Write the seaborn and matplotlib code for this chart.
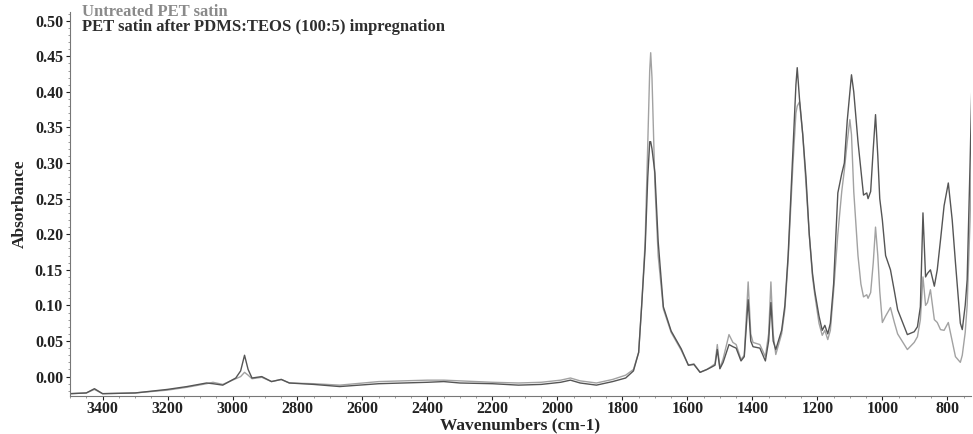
import numpy as np
import pandas as pd
import matplotlib
matplotlib.use('Agg')
import matplotlib.pyplot as plt
import seaborn as sns
from matplotlib.ticker import MultipleLocator

# wavenumber grid (cm-1)
wavenumbers = [
    3500, 3450, 3425, 3400, 3300, 3200, 3140, 3080, 3060, 3030,
    2990, 2975, 2963, 2952, 2940, 2910, 2880, 2850, 2825, 2750,
    2670, 2550, 2400, 2350, 2300, 2200, 2120, 2050, 1990, 1960,
    1930, 1880, 1830, 1790, 1766, 1750, 1741, 1730, 1722, 1716,
    1713, 1709, 1700, 1690, 1674, 1650, 1619, 1597, 1580, 1561,
    1540, 1527, 1515, 1508, 1500, 1490, 1472, 1460, 1450, 1435,
    1425, 1413, 1405, 1398, 1377, 1360, 1350, 1343, 1336, 1328,
    1310, 1300, 1290, 1275, 1266, 1262, 1255, 1245, 1235, 1225,
    1215, 1208, 1195, 1185, 1177, 1168, 1160, 1150, 1137, 1125,
    1117, 1108, 1100, 1095, 1088, 1075, 1066, 1058, 1048, 1044,
    1036, 1028, 1021, 1014, 1008, 1000, 990, 975, 963, 953,
    923, 902, 892, 883, 875, 867, 861, 852, 840, 831,
    821, 810, 797, 785, 775, 760, 754, 745, 739, 730,
    725,
]

untreated = [
    -0.024, -0.023, -0.018, -0.024, -0.023, -0.019, -0.015, -0.010, -0.008, -0.011,
    -0.003, 0.000, 0.006, 0.002, -0.003, -0.001, -0.007, -0.004, -0.009, -0.010,
    -0.012, -0.007, -0.005, -0.005, -0.006, -0.008, -0.009, -0.008, -0.005, -0.002,
    -0.006, -0.009, -0.004, 0.002, 0.010, 0.034, 0.098, 0.190, 0.330, 0.430,
    0.455, 0.420, 0.270, 0.170, 0.095, 0.062, 0.037, 0.016, 0.018, 0.006,
    0.010, 0.014, 0.018, 0.045, 0.012, 0.025, 0.059, 0.048, 0.045, 0.024,
    0.030, 0.133, 0.060, 0.048, 0.045, 0.028, 0.060, 0.133, 0.060, 0.031,
    0.060, 0.094, 0.164, 0.300, 0.370, 0.380, 0.386, 0.340, 0.270, 0.200,
    0.140, 0.115, 0.075, 0.058, 0.065, 0.052, 0.065, 0.120, 0.200, 0.260,
    0.290, 0.330, 0.361, 0.340, 0.260, 0.170, 0.130, 0.112, 0.115, 0.110,
    0.118, 0.160, 0.210, 0.170, 0.120, 0.076, 0.085, 0.097, 0.076, 0.060,
    0.038, 0.048, 0.056, 0.080, 0.140, 0.100, 0.104, 0.122, 0.080, 0.076,
    0.066, 0.065, 0.076, 0.050, 0.028, 0.020, 0.030, 0.062, 0.100, 0.220,
    0.320,
]

treated = [
    -0.024, -0.023, -0.017, -0.024, -0.023, -0.018, -0.014, -0.009, -0.010, -0.012,
    -0.002, 0.008, 0.030, 0.010, -0.002, 0.000, -0.007, -0.004, -0.009, -0.011,
    -0.014, -0.010, -0.008, -0.007, -0.009, -0.010, -0.012, -0.011, -0.008, -0.005,
    -0.009, -0.012, -0.007, -0.002, 0.008, 0.034, 0.098, 0.180, 0.280, 0.330,
    0.330, 0.320, 0.286, 0.190, 0.098, 0.064, 0.039, 0.016, 0.017, 0.006,
    0.010, 0.013, 0.016, 0.038, 0.011, 0.020, 0.045, 0.042, 0.040, 0.022,
    0.028, 0.108, 0.050, 0.042, 0.040, 0.022, 0.050, 0.104, 0.050, 0.038,
    0.065, 0.100, 0.170, 0.320, 0.410, 0.434, 0.390, 0.340, 0.280, 0.200,
    0.145, 0.120, 0.085, 0.065, 0.072, 0.060, 0.075, 0.130, 0.258, 0.285,
    0.300, 0.360, 0.400, 0.424, 0.400, 0.330, 0.290, 0.255, 0.258, 0.250,
    0.260, 0.320, 0.368, 0.310, 0.250, 0.220, 0.170, 0.150, 0.120, 0.094,
    0.059, 0.063, 0.070, 0.098, 0.230, 0.140, 0.145, 0.150, 0.127, 0.150,
    0.192, 0.240, 0.272, 0.220, 0.160, 0.075, 0.066, 0.100, 0.136, 0.300,
    0.400,
]

labels = ['Untreated PET satin', 'PET satin after PDMS:TEOS (100:5) impregnation']
line_colors = ['#a2a2a2', '#555555']
text_colors = ['#8a8a8a', '#2e2e2e']

df = pd.concat([
    pd.DataFrame({'wn': wavenumbers, 'abs': untreated, 'sample': labels[0]}),
    pd.DataFrame({'wn': wavenumbers, 'abs': treated, 'sample': labels[1]}),
])

sns.set_style('ticks')
plt.rcParams['font.family'] = ['Liberation Serif', 'DejaVu Serif']
plt.rcParams['font.weight'] = 'bold'

fig = plt.figure(figsize=(9.73, 4.34), dpi=100)
ax = fig.add_axes([0.072, 0.088, 0.926, 0.884])

sns.lineplot(data=df, x='wn', y='abs', hue='sample', palette=line_colors,
             sort=False, estimator=None, linewidth=1.0, legend=False, ax=ax)

ax.set_xlim(3500, 727)
ax.set_ylim(-0.027, 0.512)
ax.xaxis.set_major_locator(MultipleLocator(200))
ax.xaxis.set_minor_locator(MultipleLocator(50))
ax.yaxis.set_major_locator(MultipleLocator(0.05))
ax.yaxis.set_minor_locator(MultipleLocator(0.01))
ax.yaxis.set_major_formatter(matplotlib.ticker.FormatStrFormatter('%.2f'))
ax.tick_params(axis='both', which='major', length=3, width=0.8, labelsize=11.5,
               colors='#222222', pad=2)
ax.tick_params(axis='x', which='major', pad=1)
ax.tick_params(axis='both', which='minor', length=1.5, width=0.6, color='#888888')
for lab in ax.get_xticklabels() + ax.get_yticklabels():
    lab.set_fontweight('bold')

sns.despine(ax=ax)
for s in ['left', 'bottom']:
    ax.spines[s].set_color('#777777')
    ax.spines[s].set_linewidth(0.8)

ax.set_xlabel('Wavenumbers (cm-1)', fontsize=12.5, fontweight='bold', va='center')
ax.xaxis.set_label_coords(0.5, -0.076)
ax.set_ylabel('Absorbance', fontsize=12.5, fontweight='bold', labelpad=5)

for i, (lab, col) in enumerate(zip(labels, text_colors)):
    fig.text(82 / 973, 1 - (12 + i * 15) / 434, lab, color=col,
             fontsize=12, fontweight='bold', va='center', ha='left')

fig.savefig('out.png', dpi=100)
